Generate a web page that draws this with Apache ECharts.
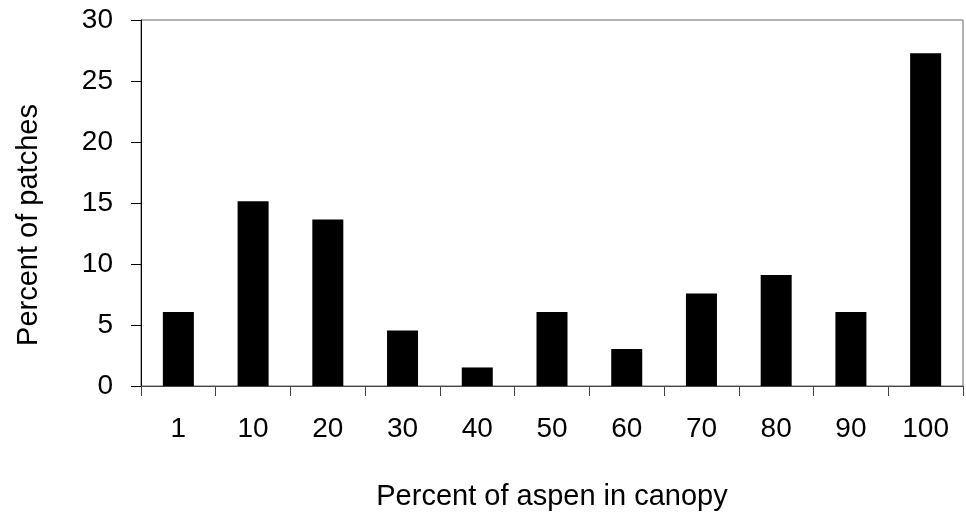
<!DOCTYPE html>
<html>
<head>
<meta charset="utf-8">
<script src="https://cdn.jsdelivr.net/npm/echarts@6/dist/echarts.min.js"></script>
<style>html,body{margin:0;padding:0;background:#fff}#c{width:966px;height:516px}</style>
</head>
<body>
<div id="c"></div>
<script>
const categories = ['1','10','20','30','40','50','60','70','80','90','100'];
const percentPatches = [6.06, 15.15, 13.64, 4.55, 1.52, 6.06, 3.03, 7.58, 9.09, 6.06, 27.27];
const yTicks = [0, 5, 10, 15, 20, 25, 30];

const chart = echarts.init(document.getElementById('c'), null, {renderer: 'canvas'});
const font = '"Liberation Sans", Arial, sans-serif';
chart.setOption({
  animation: false,
  backgroundColor: '#fff',
  grid: {left: 141, top: 20, right: 3, bottom: 129, show: true, borderColor: '#666', borderWidth: 1, backgroundColor: 'transparent'},
  xAxis: {
    type: 'category',
    data: categories,
    name: 'Percent of aspen in canopy',
    nameLocation: 'middle',
    nameGap: 96,
    nameTextStyle: {fontFamily: font, fontSize: 29, color: '#000'},
    axisLine: {lineStyle: {color: '#444', width: 1}},
    axisTick: {show: true, length: 10, inside: false, lineStyle: {color: '#444'}},
    axisLabel: {fontFamily: font, fontSize: 28, color: '#000', margin: 29},
    splitLine: {show: false}
  },
  yAxis: {
    type: 'value',
    min: yTicks[0],
    max: yTicks[yTicks.length - 1],
    interval: 5,
    name: 'Percent of patches',
    nameLocation: 'middle',
    nameGap: 98,
    nameTextStyle: {fontFamily: font, fontSize: 29, color: '#000', padding: [0, 44, 0, 0]},
    axisLine: {show: true, lineStyle: {color: '#000', width: 1}},
    axisTick: {show: true, length: 10, lineStyle: {color: '#000'}},
    axisLabel: {fontFamily: font, fontSize: 28, color: '#000', margin: 28},
    splitLine: {show: false}
  },
  series: [{
    type: 'bar',
    data: percentPatches,
    barWidth: 31,
    itemStyle: {color: '#000'}
  }]
});
</script>
</body>
</html>
